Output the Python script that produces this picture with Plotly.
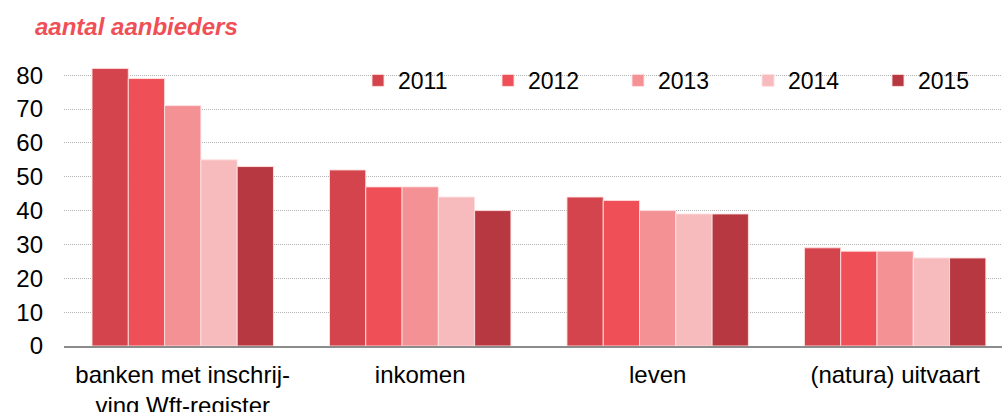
import plotly.graph_objects as go

categories = ["banken met inschrij-<br>ving Wft-register", "inkomen", "leven", "(natura) uitvaart"]
years = ["2011", "2012", "2013", "2014", "2015"]
values_2011 = [82, 52, 44, 29]
values_2012 = [79, 47, 43, 28]
values_2013 = [71, 47, 40, 28]
values_2014 = [55, 44, 39, 26]
values_2015 = [53, 40, 39, 26]
series = [values_2011, values_2012, values_2013, values_2014, values_2015]
colors = ["#d4444c", "#ef4f57", "#f49195", "#f7bbbd", "#b73840"]

fig = go.Figure()
for yr, vals, col in zip(years, series, colors):
    fig.add_trace(go.Bar(
        x=categories, y=vals, name=yr,
        marker=dict(color=col, line=dict(color="rgba(255,225,225,0.9)", width=1)),
    ))

FONT = "Liberation Sans, Arial, sans-serif"
fig.update_layout(
    width=1008, height=412,
    margin=dict(l=64, r=0, t=65, b=66),
    paper_bgcolor="white", plot_bgcolor="white",
    barmode="group", bargap=0.236, bargroupgap=0,
    font=dict(family=FONT, size=24, color="#000"),
    showlegend=True,
    legend=dict(orientation="h", x=0.3135, y=0.945, xanchor="left", yanchor="middle",
                entrywidth=85, entrywidthmode="pixels", itemwidth=30,
                font=dict(size=23), bgcolor="rgba(0,0,0,0)", traceorder="normal"),
)
fig.add_annotation(text="<b><i>aantal aanbieders</i></b>", xref="paper", yref="paper",
                   x=-0.033, y=1.138, xanchor="left", yanchor="middle", showarrow=False,
                   font=dict(size=24, color="#ef4f57", family=FONT))

fig.update_xaxes(range=[-0.5, 3.45], showgrid=False, ticks="", showline=True,
                 linecolor="#8c8c8c", linewidth=2, tickfont=dict(size=24),
                 automargin=False, ticklabelstandoff=6)
fig.update_yaxes(range=[0, 83], tickvals=[0, 10, 20, 30, 40, 50, 60, 70, 80],
                 showgrid=True, gridcolor="#b4b4b4", griddash="1px,1px", gridwidth=1,
                 zeroline=False, showline=False, ticks="", ticklabelstandoff=20,
                 tickfont=dict(size=24), automargin=False)

fig.write_html("out.html", config={"displayModeBar": False},
               post_script="document.body.style.margin='0';document.body.style.overflow='hidden';")
